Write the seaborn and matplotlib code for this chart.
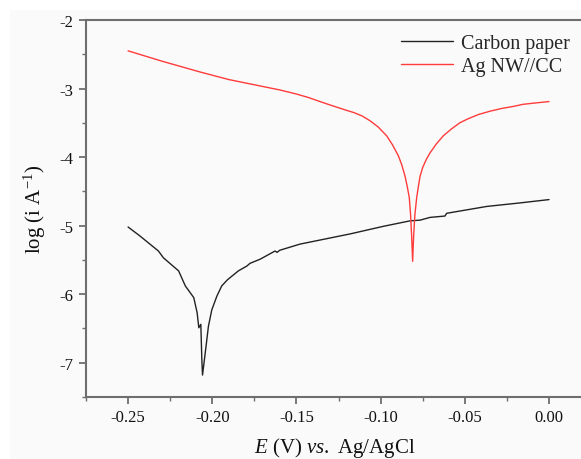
import numpy as np
import pandas as pd
import matplotlib
matplotlib.use("Agg")
import matplotlib.pyplot as plt
from matplotlib.patches import Rectangle
from matplotlib.lines import Line2D
import seaborn as sns

series_names = ["Carbon paper", "Ag NW//CC"]

carbon_E = [-0.250, -0.243, -0.232, -0.229, -0.220, -0.216, -0.211, -0.209, -0.208,
            -0.2068, -0.2062, -0.2058, -0.2049, -0.2037, -0.2023, -0.2003, -0.1973,
            -0.1944, -0.191, -0.1845, -0.1795, -0.1776, -0.1716, -0.1627, -0.1615,
            -0.1600, -0.148, -0.132, -0.118, -0.0984, -0.0825, -0.0766, -0.0707,
            -0.0618, -0.0608, -0.037, -0.0178, 0.0]
carbon_logi = [-5.02, -5.15, -5.37, -5.47, -5.66, -5.88, -6.05, -6.27, -6.49,
               -6.44, -6.96, -7.18, -7.00, -6.76, -6.47, -6.23, -6.03,
               -5.88, -5.79, -5.66, -5.59, -5.55, -5.49, -5.37, -5.39,
               -5.36, -5.27, -5.19, -5.12, -5.01, -4.93, -4.92, -4.88,
               -4.86, -4.82, -4.72, -4.67, -4.62]

ag_E = [-0.250, -0.230, -0.207, -0.190, -0.172, -0.160, -0.150, -0.143, -0.136,
        -0.130, -0.125, -0.120, -0.116, -0.111, -0.1063, -0.1015, -0.0964,
        -0.093, -0.0895, -0.0875, -0.0855, -0.0842, -0.0830, -0.0822, -0.0816,
        -0.0810, -0.0804, -0.0797, -0.0786, -0.0776, -0.0766, -0.0750, -0.0730,
        -0.0707, -0.0670, -0.0628, -0.0580, -0.0530, -0.0480, -0.0420, -0.0350,
        -0.0280, -0.0210, -0.0154, -0.0080, 0.0]
ag_logi = [-2.45, -2.60, -2.76, -2.87, -2.96, -3.02, -3.08, -3.13, -3.19,
           -3.24, -3.28, -3.32, -3.35, -3.40, -3.47, -3.56, -3.69,
           -3.82, -3.98, -4.11, -4.28, -4.43, -4.59, -4.85, -5.15,
           -5.52, -5.15, -4.85, -4.59, -4.43, -4.28, -4.15, -4.04,
           -3.94, -3.81, -3.69, -3.59, -3.50, -3.44, -3.38, -3.33,
           -3.29, -3.26, -3.23, -3.21, -3.19]

x_ticks = [-0.25, -0.20, -0.15, -0.10, -0.05, 0.00]
x_tick_labels = ["-0.25", "-0.20", "-0.15", "-0.10", "-0.05", "0.00"]
y_ticks = [-7, -6, -5, -4, -3, -2]
y_tick_labels = ["-7", "-6", "-5", "-4", "-3", "-2"]

df = pd.concat([
    pd.DataFrame({"E": carbon_E, "logi": carbon_logi, "series": series_names[0]}),
    pd.DataFrame({"E": ag_E, "logi": ag_logi, "series": series_names[1]}),
], ignore_index=True)

sns.set_theme(style="ticks")
plt.rcParams["font.family"] = ["Liberation Serif", "DejaVu Serif"]
plt.rcParams["mathtext.fontset"] = "custom"
plt.rcParams["mathtext.rm"] = "Liberation Serif"
plt.rcParams["mathtext.it"] = "Liberation Serif:italic"

bg = "#fafafa"
spine_c = "#6e6e6e"
colors = {series_names[0]: "#222222", series_names[1]: "#ff3b3b"}

fig = plt.figure(figsize=(5.81, 4.60), dpi=100, facecolor="white")
fig.patches.append(Rectangle((10 / 581, 0), 1, (460 - 11) / 460, transform=fig.transFigure,
                             facecolor=bg, edgecolor="none", zorder=-10))

ax = fig.add_axes([86 / 581, 62 / 460, 496.7 / 581, 377 / 460])
ax.set_facecolor(bg)

sns.lineplot(data=df, x="E", y="logi", hue="series", palette=colors,
             sort=False, estimator=None, ax=ax, linewidth=1.0, legend=False)

ax.set_xlim(-0.275, 0.02)
ax.set_ylim(-7.5, -2)
ax.set_xticks(x_ticks)
ax.set_xticklabels(x_tick_labels)
ax.set_yticks(y_ticks)
ax.set_yticklabels(y_tick_labels)
ax.set_xticks([-0.275, -0.225, -0.175, -0.125, -0.075, -0.025], minor=True)
ax.set_yticks([-7.5, -6.5, -5.5, -4.5, -3.5, -2.5], minor=True)

for s in ax.spines.values():
    s.set_color(spine_c)
    s.set_linewidth(1.5)
ax.tick_params(which="major", direction="out", length=5, width=1.3, color=spine_c,
               labelsize=12, labelcolor="#111111", pad=4)
ax.tick_params(which="minor", direction="out", length=3, width=1.0, color=spine_c)

ax.set_xlabel(r"$\it{E}$ (V) $\it{vs.}$ Ag/AgCl", fontsize=15, color="#111111", labelpad=7)
ax.set_ylabel(r"log (i A$^{\mathregular{-1}}$)", fontsize=15, color="#111111", labelpad=8)

handles = [Line2D([], [], color=colors[n], lw=1.0) for n in series_names]
ax.legend(handles, series_names, loc="upper right", bbox_to_anchor=((582 - 86) / 496.7, 0.995),
          frameon=False, fontsize=14.5, handlelength=2.6, handletextpad=0.4, labelspacing=0.2,
          borderaxespad=0.2)

fig.savefig("out.png", dpi=100, facecolor="white")
